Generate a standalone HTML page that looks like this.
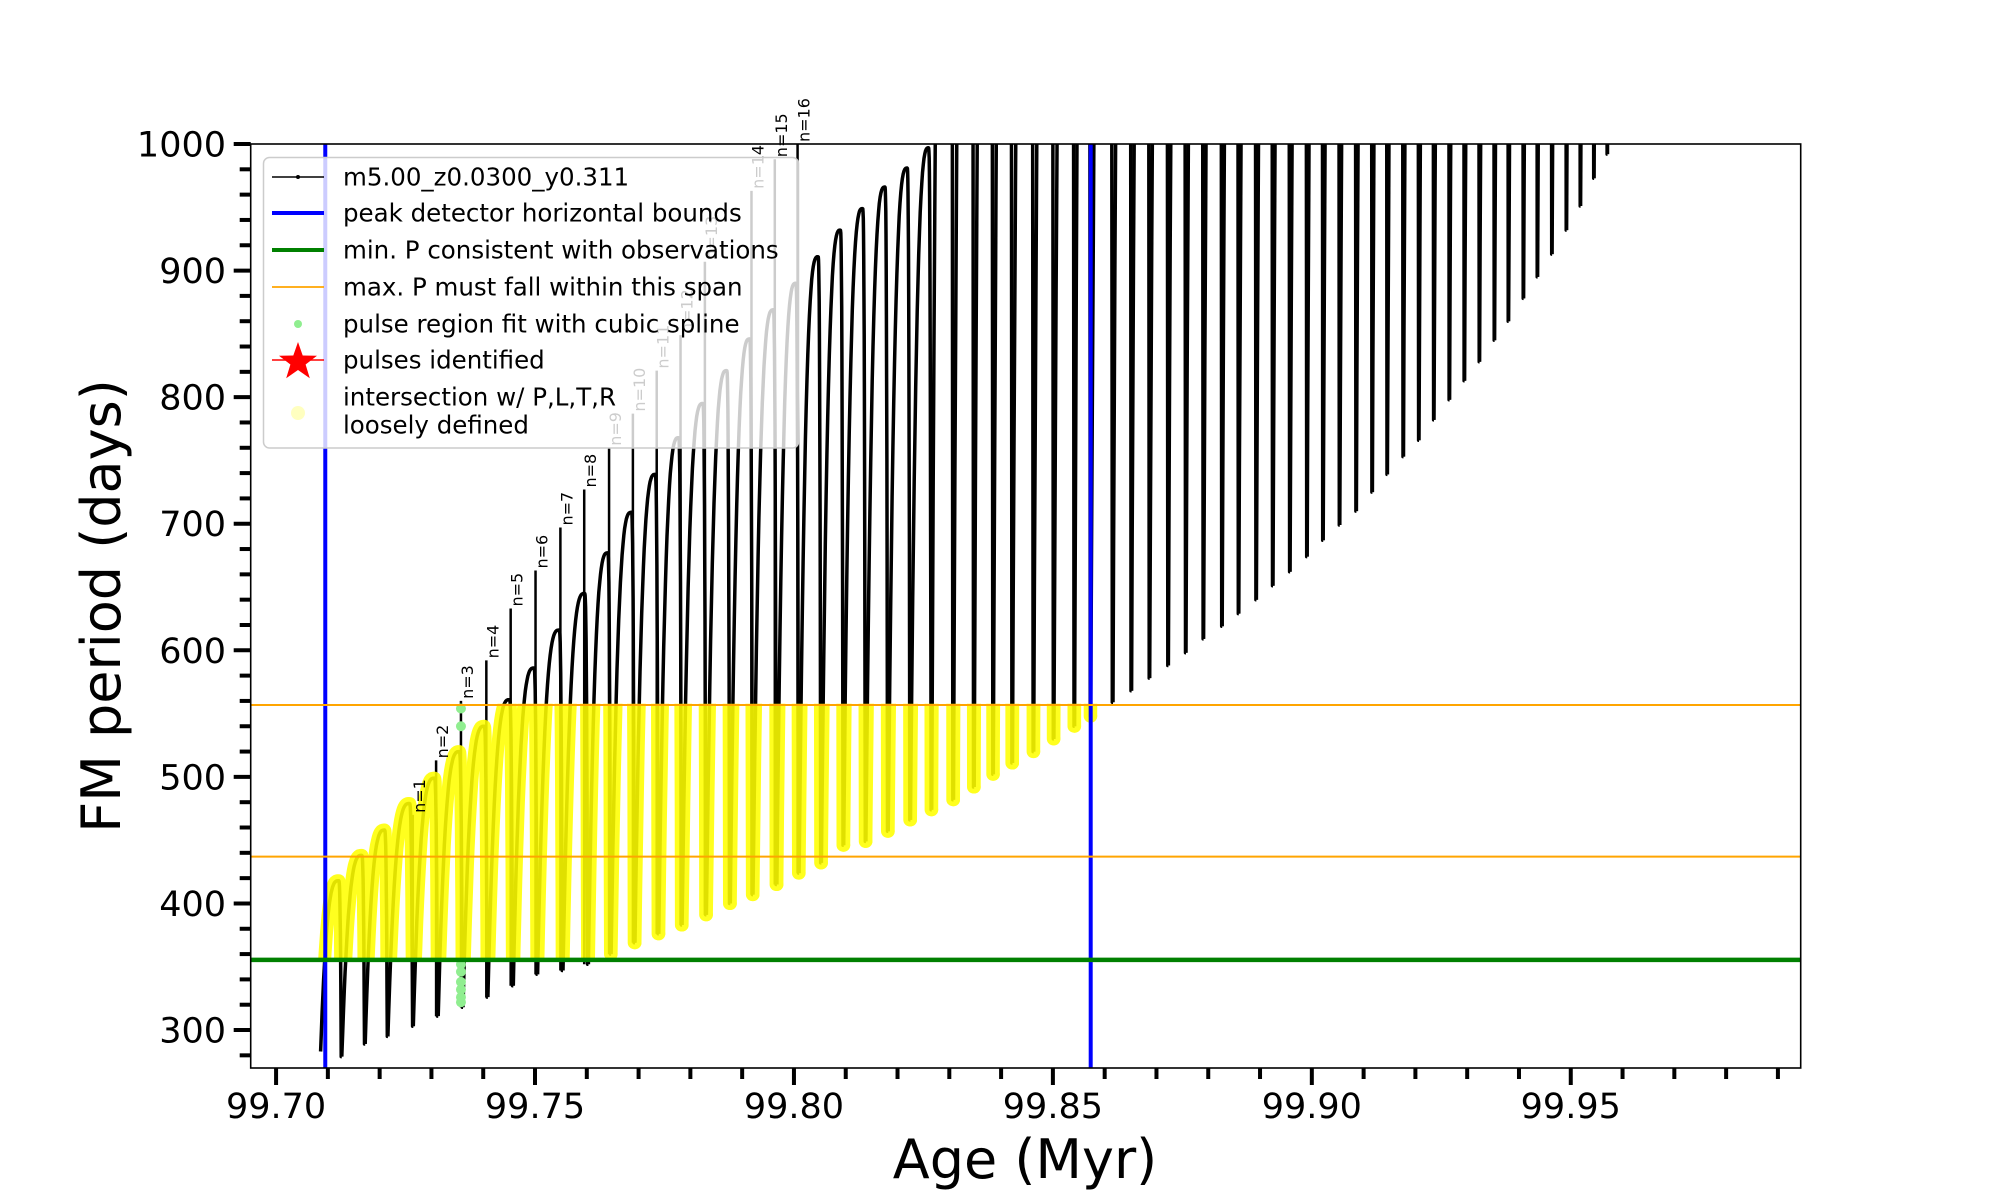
<!DOCTYPE html>
<html><head><meta charset="utf-8"><style>
html,body{margin:0;padding:0;background:#fff;}
svg{display:block;font-family:"DejaVu Sans","Liberation Sans",sans-serif;}
</style></head><body>
<svg id="chart" width="2000" height="1200" viewBox="0 0 2000 1200" xmlns="http://www.w3.org/2000/svg">
<defs><clipPath id="plotclip"><rect x="250.7" y="144" width="1550" height="924"/></clipPath>
<clipPath id="yellowclip"><rect id="yc" x="250" y="0" width="100" height="100"/></clipPath></defs>
<g id="layer-data" clip-path="url(#plotclip)"></g>
<g id="layer-axes"></g>
<g id="layer-legend"></g>
</svg>
<script>
// ---- data ----
const pulseAges = [99.7086,99.7127,99.7172,99.7216,99.7265,99.7313,99.7361,99.7409,99.7458,99.7505,99.7554,99.7603,99.7647,99.7693,99.7739,99.7784,99.7831,99.7877,99.7921,99.7967,99.8010,99.8053,99.8096,99.8139,99.8182,99.8225,99.8266,99.8308,99.8348,99.8385,99.8422,99.8463,99.8502,99.8542,99.8573,
99.8616,99.8652,99.8687,99.8723,99.8757,99.8791,99.8827,99.8859,99.8893,99.8925,99.8958,99.8991,99.9022,99.9054,99.9086,99.9117,99.9146,99.9177,99.9207,99.9236,99.9266,99.9295,99.9324,99.9353,99.9380,99.9409,99.9436,99.9464,99.9492,99.9519,99.9545,99.9571];
const pulseMinP = [283,279,289,295,303,311,318,326,335,344,347,352,360,369,376,383,391,400,407,415,424,432,446,449,457,466,474,482,492,502,511,520,530,540,548,
559,568,578,588,598,609,619,629,640,651,662,674,687,699,710,725,739,753,766,782,798,813,828,845,860,878,895,913,932,951,973,992];
const pulsePeakP = [418,438,458,479,499,520,540,561,586,616,645,677,709,739,768,795,821,846,869,890,911,932,949,966,981,997,
1600,1600,1600,1600,1600,1600,1600,1600,1600,1600,1600,1600,1600,1600,1600,1600,1600,1600,1600,1600,1600,1600,1600,1600,1600,1600,1600,1600,1600,1600,1600,1600,1600,1600,1600,1600,1600,1600,1600,1600,1600];
const spikeLabels = ["n=1","n=2","n=3","n=4","n=5","n=6","n=7","n=8","n=9","n=10","n=11","n=12","n=13","n=14","n=15","n=16"];
const spikeAges = [99.7264,99.7309,99.7357,99.7406,99.7453,99.7501,99.7549,99.7595,99.7643,99.7689,99.7735,99.7781,99.7828,99.7918,99.7963,99.8007];
const spikeTopP = [470,513,560,592,633,663,697,727,760,787,821,849,907,963,988,1000];
const greenAge = 99.7357;
const greenP = [554,540,352,346,338,332,326,322];
const peakBounds = [99.7095,99.8573];
const minPLine = 355.4;
const maxPSpan = [437,556.8];
const xTicks = [99.70,99.75,99.80,99.85,99.90,99.95];
const xTickLabels = ["99.70","99.75","99.80","99.85","99.90","99.95"];
const yTicks = [300,400,500,600,700,800,900,1000];
const yTickLabels = ["300","400","500","600","700","800","900","1000"];

// ---- scales ----
const X0=250.7, X1=1800.7, Y0=144, Y1=1068;
const AMIN=99.6951, AMAX=99.9944, PMIN=270, PMAX=1000;
function X(a){return X0+(a-AMIN)/(AMAX-AMIN)*(X1-X0);}
function Y(p){return Y1-(p-PMIN)/(PMAX-PMIN)*(Y1-Y0);}
const NS="http://www.w3.org/2000/svg";
function mk(tag,attrs,parent){const e=document.createElementNS(NS,tag);for(const k in attrs)e.setAttribute(k,attrs[k]);parent.appendChild(e);return e;}
const data=document.getElementById('layer-data'), axes=document.getElementById('layer-axes'), leg=document.getElementById('layer-legend');

function pulsePath(i){
  const t=pulseAges[i], mn=pulseMinP[i], pk=pulsePeakP[i];
  const last = i===pulseAges.length-1;
  const d = last ? 0.0026 : pulseAges[i+1]-t;
  const nextMin = last ? mn : pulseMinP[i+1];
  let s='M'+X(t).toFixed(1)+','+Y(mn).toFixed(1);
  if(last){ return s+' L'+X(t).toFixed(1)+','+Y(1010).toFixed(1); }
  for(let k=1;k<=24;k++){const u=k/24;const a=t+0.85*d*u;const p=mn+(pk-mn)*(1-Math.pow(1-u,3));s+=' L'+X(a).toFixed(1)+','+Y(p).toFixed(1);}
  for(let k=1;k<=12;k++){const u=k/12;const a=t+0.85*d+0.12*d*u;const p=pk-(pk-nextMin)*Math.pow(u,3);s+=' L'+X(a).toFixed(1)+','+Y(p).toFixed(1);}
  s+=' L'+X(pulseAges[i+1]).toFixed(1)+','+Y(nextMin).toFixed(1);
  return s;
}
const yc=document.getElementById('yc');
yc.setAttribute('x',X0);yc.setAttribute('width',X(peakBounds[1])-X0+8);
yc.setAttribute('y',Y(maxPSpan[1]+1));yc.setAttribute('height',Y(minPLine)-Y(maxPSpan[1]+1));
const gBlack=mk('g',{},data);


for(let i=0;i<pulseAges.length;i++){
  const p=mk('path',{d:pulsePath(i),fill:'none',stroke:'#000','stroke-width':3.5,'stroke-linejoin':'round'},gBlack);
  
  
}
const gSpike=mk('g',{},data);


function nearestMin(a){let b=0;for(let i=0;i<pulseAges.length;i++){if(Math.abs(pulseAges[i]-a)<Math.abs(pulseAges[b]-a))b=i;}return pulseMinP[b];}
for(let i=0;i<spikeAges.length;i++){
  const x=X(spikeAges[i]);
  const l=mk('line',{x1:x,x2:x,y1:Y(spikeTopP[i]),y2:Y(nearestMin(spikeAges[i])),stroke:'#000','stroke-width':2.5},gSpike);
  
  
}
const gY=mk('g',{'clip-path':'url(#yellowclip)',opacity:0.88},data);


for(let i=0;i<pulseAges.length;i++){
  if(pulseAges[i]>peakBounds[1]+0.0005)continue;
  const p=mk('path',{d:pulsePath(i),fill:'none',stroke:'#ffff00','stroke-width':13,'stroke-linejoin':'round','stroke-linecap':'round'},gY);
  
  
}
for(let i=0;i<greenP.length;i++){
  const c=mk('circle',{cx:X(greenAge),cy:Y(greenP[i]),r:5,fill:'#90ee90'},data);
  
  
}
for(const a of peakBounds){
  const l=mk('line',{x1:X(a),x2:X(a),y1:Y0,y2:Y1,stroke:'#0000ff','stroke-width':4},data);
  
  
}
{const l=mk('line',{x1:X0,x2:X1,y1:Y(minPLine),y2:Y(minPLine),stroke:'#008000','stroke-width':4.5},data);
 
 }
for(const p of maxPSpan){
  const l=mk('line',{x1:X0,x2:X1,y1:Y(p),y2:Y(p),stroke:'#ffa500','stroke-width':2},data);
  
  
}
for(let i=0;i<spikeAges.length;i++){
  const x=X(spikeAges[i])+12, y=Y(spikeTopP[i])-2;
  const t=mk('text',{x:x,y:y,'font-size':16,fill:'#000',transform:'rotate(-90 '+x+' '+y+')'},axes);
  t.textContent=spikeLabels[i];
  
  
}
{const r=mk('rect',{x:X0,y:Y0,width:X1-X0,height:Y1-Y0,fill:'none',stroke:'#000','stroke-width':1.6},axes);
 
 }
for(let m=0;m<=29;m++){
  const a=99.70+m*0.01; if(a>AMAX)break;
  const major=(m%5===0);
  const l=mk('line',{x1:X(a),x2:X(a),y1:Y1,y2:Y1+(major?17:11),stroke:'#000','stroke-width':4},axes);
  
  
}
for(let i=0;i<xTicks.length;i++){
  const t=mk('text',{x:X(xTicks[i]),y:1118,'font-size':35,'text-anchor':'middle',fill:'#000'},axes);
  t.textContent=xTickLabels[i];
  
  
}
for(let p=280;p<=1000;p+=20){
  const major=(p%100===0);
  const l=mk('line',{x1:X0,x2:X0-(major?17:11),y1:Y(p),y2:Y(p),stroke:'#000','stroke-width':4},axes);
  
  
}
for(let i=0;i<yTicks.length;i++){
  const t=mk('text',{x:226,y:Y(yTicks[i])+12.5,'font-size':35,'text-anchor':'end',fill:'#000'},axes);
  t.textContent=yTickLabels[i];
  
  
}
{const t=mk('text',{x:1025,y:1178,'font-size':54,'text-anchor':'middle',fill:'#000'},axes);
 t.textContent='Age (Myr)';
 
 }
{const t=mk('text',{x:120,y:606,'font-size':54,'text-anchor':'middle',fill:'#000',transform:'rotate(-90 120 606)'},axes);
 t.textContent='FM period (days)';
 
 }
{const r=mk('rect',{x:263.5,y:157.5,width:535,height:290.5,rx:6,fill:'#fff','fill-opacity':0.8,stroke:'#cccccc','stroke-width':1.5},leg);
 
 }
const legTexts=['m5.00_z0.0300_y0.311','peak detector horizontal bounds','min. P consistent with observations','max. P must fall within this span','pulse region fit with cubic spline','pulses identified'];
const legY=[177,213,250,287,324,360];
function legText(s,y){const t=mk('text',{x:343,y:y+8.5,'font-size':24.5,fill:'#000'},leg);t.textContent=s;}
for(let i=0;i<legTexts.length;i++)legText(legTexts[i],legY[i]);
legText('intersection w/ P,L,T,R',397);legText('loosely defined',425);
let h;
h=mk('line',{x1:272,x2:324,y1:177,y2:177,stroke:'#000','stroke-width':1.5},leg);
h=mk('circle',{cx:298,cy:177,r:2,fill:'#000'},leg);
h=mk('line',{x1:272,x2:324,y1:213,y2:213,stroke:'#0000ff','stroke-width':4},leg);
h=mk('line',{x1:272,x2:324,y1:250,y2:250,stroke:'#008000','stroke-width':4},leg);
h=mk('line',{x1:272,x2:324,y1:287,y2:287,stroke:'#ffa500','stroke-width':1.8},leg);
h=mk('circle',{cx:298,cy:324,r:4,fill:'#90ee90'},leg);
h=mk('line',{x1:272,x2:324,y1:360,y2:360,stroke:'#ff0000','stroke-width':1.5},leg);
{let pts='';for(let k=0;k<10;k++){const r=(k%2===0)?20:8;const ang=-Math.PI/2+k*Math.PI/5;pts+=(298+r*Math.cos(ang)).toFixed(1)+','+(362+r*Math.sin(ang)).toFixed(1)+' ';}
 h=mk('polygon',{points:pts,fill:'#ff0000'},leg);}
h=mk('circle',{cx:298,cy:413,r:7,fill:'#ffffc0'},leg);
</script>
</body></html>
